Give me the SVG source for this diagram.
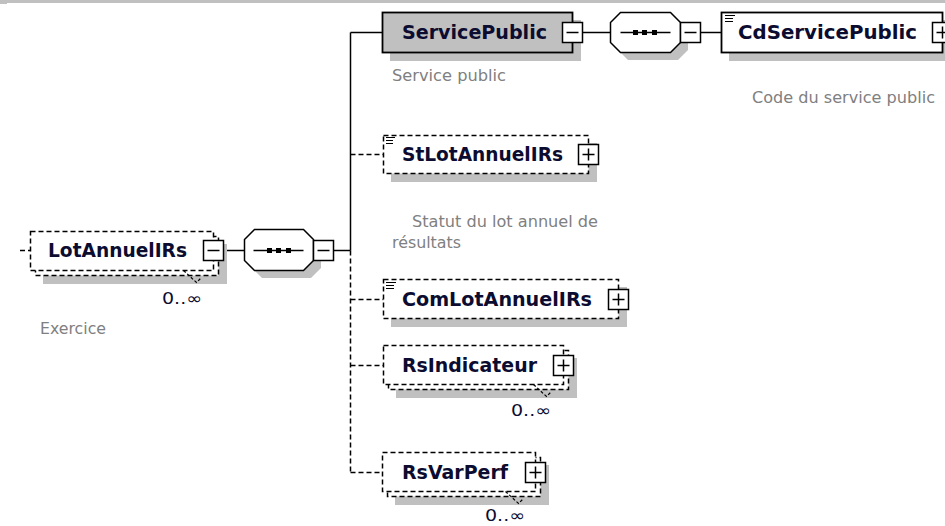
<svg xmlns="http://www.w3.org/2000/svg" width="945" height="526" viewBox="0 0 945 526">
<defs>
<style>
.shadow{fill:#c0c0c0;stroke:none}
.opt{fill:#fff;stroke:#000;stroke-width:1.5;stroke-dasharray:5 3}
.req{fill:#fff;stroke:#000;stroke-width:1.5}
.reqg{fill:#c0c0c0;stroke:#000;stroke-width:1.8}
.pm{fill:#fff;stroke:#000;stroke-width:1.5}
.sym{fill:none;stroke:#000;stroke-width:1.5}
.lbl{font-family:"DejaVu Sans","Liberation Sans",sans-serif;font-weight:bold;font-size:19px;fill:#0c0c30}
.desc{font-family:"DejaVu Sans","Liberation Sans",sans-serif;font-size:15px;fill:#808080}
.occ{font-family:"DejaVu Sans","Liberation Sans",sans-serif;font-size:16px;fill:#0c0c30}
.solid{fill:none;stroke:#000;stroke-width:1.5}
.dash{fill:none;stroke:#000;stroke-width:1.5;stroke-dasharray:5 3}
.notch{fill:none;stroke:#000;stroke-width:1.2;stroke-dasharray:3 2}
.icon{fill:none;stroke:#000;stroke-width:1.2}
</style>
</defs>
<rect x="0" y="0" width="945" height="3" fill="#c0c0c0"/>
<rect x="0" y="3" width="7" height="1" fill="#c0c0c0"/>

<g id="connectors">
<path class="dash" d="M20,250.5 H30.5"/>
<path class="solid" d="M223.5,250.5 H244.5"/>
<path class="solid" d="M333.5,250.5 H350.5"/>
<path class="solid" d="M350.5,32.5 V250.5"/>
<path class="dash" d="M350.5,250.5 V472.5"/>
<path class="solid" d="M350.5,32.5 H382.5"/>
<path class="dash" d="M350.5,154.5 H383.5"/>
<path class="dash" d="M350.5,299.5 H383.5"/>
<path class="dash" d="M350.5,365.5 H383.5"/>
<path class="dash" d="M350.5,472.5 H382.5"/>
<path class="solid" d="M582.5,32.5 H610.5"/>
<path class="solid" d="M700.5,32.5 H721.5"/>
</g>

<g id="LotAnnuelIRs">
<rect class="shadow" x="43" y="244" width="184" height="40"/>
<rect class="opt" x="35.5" y="236.5" width="183" height="39"/>
<rect class="opt" x="30.5" y="231.5" width="183" height="39"/>
<rect class="pm" x="203.5" y="240.5" width="20" height="20"/>
<path class="sym" d="M207.5,250.5 H219.5"/>
<text class="lbl" x="48" y="257" textLength="139" lengthAdjust="spacingAndGlyphs">LotAnnuelIRs</text>
<path class="notch" d="M183.5,270.5 L196.5,282.5 L201.5,277.5"/>
<text class="occ" x="202" y="304" text-anchor="end" textLength="40" lengthAdjust="spacingAndGlyphs">0..∞</text>
<text class="desc" x="40" y="334" textLength="66" lengthAdjust="spacingAndGlyphs">Exercice</text>
</g>

<g id="seq1">
<path class="shadow" d="M262,237 H311 L321,247 V268 L311,278 H262 L252,268 V247 Z"/>
<path class="req" d="M254.5,229.5 H303.5 L313.5,239.5 V260.5 L303.5,270.5 H254.5 L244.5,260.5 V239.5 Z"/>
<path class="sym" d="M253.5,250.5 H303.5"/>
<rect x="267" y="248" width="5" height="5" fill="#000"/>
<rect x="276" y="248" width="5" height="5" fill="#000"/>
<rect x="286" y="248" width="5" height="5" fill="#000"/>
<rect class="pm" x="313.5" y="240.5" width="20" height="20"/>
<path class="sym" d="M317.5,250.5 H329.5"/>
</g>

<g id="ServicePublic">
<rect class="shadow" x="390" y="20" width="191" height="41"/>
<rect class="reqg" x="382.5" y="12.5" width="190" height="40"/>
<rect class="pm" x="562.5" y="22.5" width="20" height="20"/>
<path class="sym" d="M566.5,32.5 H578.5"/>
<text class="lbl" x="402" y="39" textLength="145" lengthAdjust="spacingAndGlyphs">ServicePublic</text>
<text class="desc" x="392" y="81" textLength="114" lengthAdjust="spacingAndGlyphs">Service public</text>
</g>

<g id="seq2">
<path class="shadow" d="M628,20 H678 L688,30 V50 L678,60 H628 L618,50 V30 Z"/>
<path class="req" d="M620.5,12.5 H670.5 L680.5,22.5 V42.5 L670.5,52.5 H620.5 L610.5,42.5 V22.5 Z"/>
<path class="sym" d="M620.5,32.5 H670.5"/>
<rect x="633" y="30" width="5" height="5" fill="#000"/>
<rect x="642" y="30" width="5" height="5" fill="#000"/>
<rect x="652" y="30" width="5" height="5" fill="#000"/>
<rect class="pm" x="680.5" y="22.5" width="20" height="20"/>
<path class="sym" d="M684.5,32.5 H696.5"/>
</g>

<g id="CdServicePublic">
<rect class="shadow" x="729" y="20" width="222" height="41"/>
<rect class="req" x="721.5" y="12.5" width="221" height="40" style="stroke-width:1.8"/>
<rect class="pm" x="932.5" y="22.5" width="20" height="20"/>
<path class="sym" d="M936.5,32.5 H948.5 M942.5,26.5 V38.5"/>
<path class="icon" d="M725,15.5 H735 M725,18.5 H733 M725,21.5 H733"/>
<text class="lbl" x="738" y="39" textLength="179" lengthAdjust="spacingAndGlyphs">CdServicePublic</text>
<text class="desc" x="752" y="103" textLength="183" lengthAdjust="spacingAndGlyphs">Code du service public</text>
</g>

<g id="StLotAnnuelIRs">
<rect class="shadow" x="391" y="143" width="206" height="39"/>
<rect class="opt" x="383.5" y="135.5" width="205" height="38"/>
<rect class="pm" x="578.5" y="144.5" width="20" height="20"/>
<path class="sym" d="M582.5,154.5 H594.5 M588.5,148.5 V160.5"/>
<path class="icon" d="M386,137.5 H395 M386,140.5 H393 M386,143.5 H393"/>
<text class="lbl" x="402" y="161" textLength="161" lengthAdjust="spacingAndGlyphs">StLotAnnuelIRs</text>
<text class="desc" x="412" y="227" textLength="186" lengthAdjust="spacingAndGlyphs">Statut du lot annuel de</text>
<text class="desc" x="392" y="248" textLength="69" lengthAdjust="spacingAndGlyphs">résultats</text>
</g>

<g id="ComLotAnnuelIRs">
<rect class="shadow" x="391" y="287" width="236" height="40"/>
<rect class="opt" x="383.5" y="279.5" width="235" height="39"/>
<rect class="pm" x="608.5" y="289.5" width="20" height="20"/>
<path class="sym" d="M612.5,299.5 H624.5 M618.5,293.5 V305.5"/>
<path class="icon" d="M386,282.5 H396 M386,285.5 H394 M386,288.5 H394"/>
<text class="lbl" x="402" y="306" textLength="190" lengthAdjust="spacingAndGlyphs">ComLotAnnuelIRs</text>
</g>

<g id="RsIndicateur">
<rect class="shadow" x="396" y="358" width="181" height="40"/>
<rect class="opt" x="388.5" y="350.5" width="180" height="39"/>
<rect class="opt" x="383.5" y="345.5" width="180" height="39"/>
<rect class="pm" x="553.5" y="355.5" width="20" height="20"/>
<path class="sym" d="M557.5,365.5 H569.5 M563.5,359.5 V371.5"/>
<text class="lbl" x="402" y="372" textLength="135" lengthAdjust="spacingAndGlyphs">RsIndicateur</text>
<path class="notch" d="M533.5,384.5 L546.5,396.5 L551.5,391.5"/>
<text class="occ" x="551" y="416" text-anchor="end" textLength="40" lengthAdjust="spacingAndGlyphs">0..∞</text>
</g>

<g id="RsVarPerf">
<rect class="shadow" x="395" y="465" width="154" height="40"/>
<rect class="opt" x="387.5" y="457.5" width="153" height="39"/>
<rect class="opt" x="382.5" y="452.5" width="153" height="39"/>
<rect class="pm" x="525.5" y="462.5" width="20" height="20"/>
<path class="sym" d="M529.5,472.5 H541.5 M535.5,466.5 V478.5"/>
<text class="lbl" x="402" y="479" textLength="106" lengthAdjust="spacingAndGlyphs">RsVarPerf</text>
<path class="notch" d="M505.5,491.5 L518.5,503.5 L523.5,498.5"/>
<text class="occ" x="525" y="521" text-anchor="end" textLength="40" lengthAdjust="spacingAndGlyphs">0..∞</text>
</g>
</svg>
